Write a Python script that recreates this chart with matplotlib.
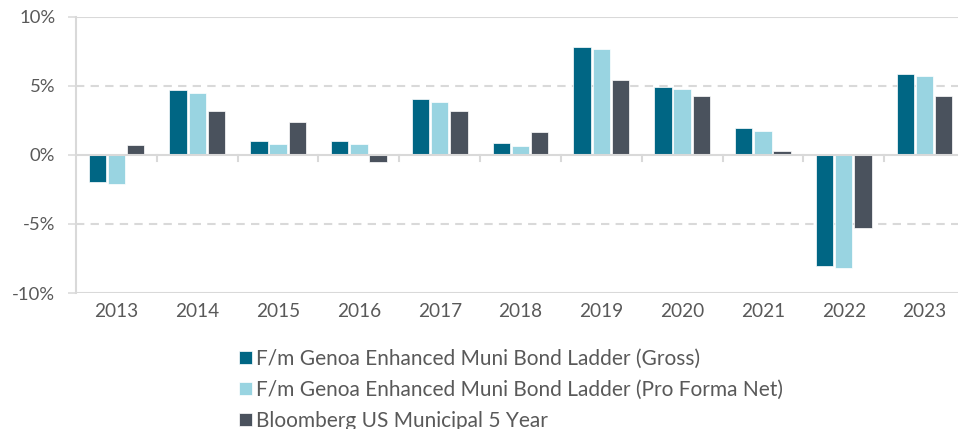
import numpy as np
import matplotlib
matplotlib.use("Agg")
import matplotlib.pyplot as plt
from matplotlib.ticker import FuncFormatter

# data (annual returns, %)
years = ["2013", "2014", "2015", "2016", "2017", "2018", "2019", "2020", "2021", "2022", "2023"]
gross = [-2.0, 4.65, 1.0, 1.0, 4.0, 0.83, 7.82, 4.93, 1.94, -8.05, 5.87]
net = [-2.15, 4.47, 0.8, 0.8, 3.81, 0.63, 7.65, 4.73, 1.75, -8.22, 5.68]
bloomberg = [0.73, 3.18, 2.4, -0.49, 3.18, 1.65, 5.39, 4.27, 0.27, -5.33, 4.27]

names = ["F/m Genoa Enhanced Muni Bond Ladder (Gross)",
         "F/m Genoa Enhanced Muni Bond Ladder (Pro Forma Net)",
         "Bloomberg US Municipal 5 Year"]
colors = ["#006684", "#99D4E1", "#4A525D"]

plt.rcParams['font.family'] = ['Lato', 'DejaVu Sans']
text_col = "#595959"
grid_col = "#D9D9D9"

fig = plt.figure(figsize=(9.58, 4.29), dpi=100)
# axes extends slightly past the right edge like the reference crop
ax = fig.add_axes([76 / 958, 136 / 429, 889 / 958, 276.5 / 429])

x = np.arange(len(years))
w = 0.215
off = 0.237
for i, (vals, name, c) in enumerate(zip([gross, net, bloomberg], names, colors)):
    ax.bar(x + (i - 1) * off, vals, w, color=c, label=name,
           edgecolor="white", linewidth=0.5, zorder=3)

ax.set_xlim(-0.5, len(years) - 0.5)
ax.set_ylim(-10, 10)
ax.set_yticks([-10, -5, 0, 5, 10])
ax.yaxis.set_major_formatter(FuncFormatter(lambda v, p: "%d%%" % v))

# gridlines: solid at +-10, dashed at +-5, solid zero line
for yv in [10, -10]:
    ax.axhline(yv, color=grid_col, lw=1.5, zorder=1)
for yv in [5, -5]:
    ax.axhline(yv, color=grid_col, lw=1.5, ls=(0, (4, 3)), zorder=1)
ax.axhline(0, color=grid_col, lw=1.5, zorder=4)

for s in ["top", "right", "bottom"]:
    ax.spines[s].set_visible(False)
ax.spines["left"].set_color(grid_col)
ax.spines["left"].set_linewidth(1.5)

ax.set_xticks(x)
ax.set_xticklabels(years)
ax.tick_params(axis="x", length=0, pad=7, labelsize=13.7, labelcolor=text_col)
ax.tick_params(axis="y", length=5.8, width=1.1, color=grid_col, pad=9,
               labelsize=13.3, labelcolor=text_col)

# category separators hanging below the zero line
for b in np.arange(0.5, len(years) - 0.5, 1):
    ax.plot([b, b], [0, -0.45], color=grid_col, lw=1.5, zorder=4, clip_on=False)

leg = ax.legend(loc="upper left", bbox_to_anchor=(239 / 958, 1 - 349 / 429),
                bbox_transform=fig.transFigure, frameon=False, fontsize=15,
                handlelength=0.6, handleheight=0.6, handletextpad=0.2,
                labelspacing=0.52, borderaxespad=0, borderpad=0)
for t in leg.get_texts():
    t.set_color(text_col)

fig.savefig("out.png", dpi=100)
